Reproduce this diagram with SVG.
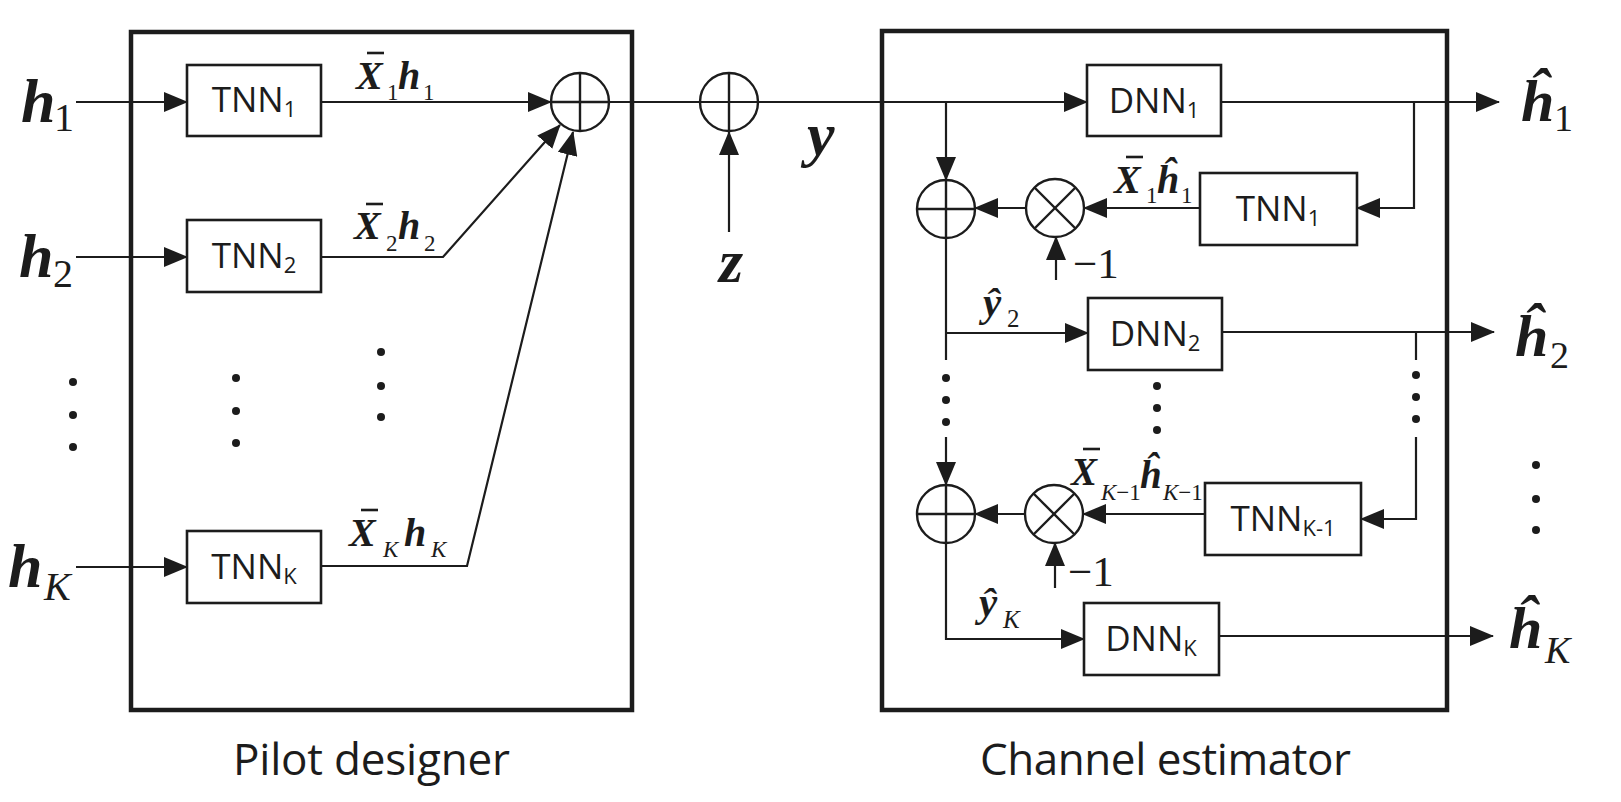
<svg xmlns="http://www.w3.org/2000/svg" width="1621" height="802" viewBox="0 0 1621 802">
<defs>
<style>
.ln{stroke:#1c1c1c;stroke-width:2.2;fill:none}
.box{fill:#fff;stroke:#1c1c1c;stroke-width:2.6}
.frame{fill:none;stroke:#1c1c1c;stroke-width:4.5}
.op{fill:none;stroke:#1c1c1c;stroke-width:2.4}
.lbl{font-family:"Open Sans","Noto Sans",sans-serif;font-size:35px;fill:#1c1c1c}
.sub{font-size:22px}
.cap{font-family:"Open Sans","Noto Sans",sans-serif;font-size:44px;fill:#1c1c1c}
.m{font-family:"Liberation Serif","Times New Roman",serif;font-weight:bold;font-style:italic;fill:#1c1c1c}
.mr{font-family:"Liberation Serif","Times New Roman",serif;font-weight:normal;font-style:normal;fill:#1c1c1c}
.mi{font-family:"Liberation Serif","Times New Roman",serif;font-weight:normal;font-style:italic;fill:#1c1c1c}
.dot{fill:#1c1c1c}
.bar{stroke:#1c1c1c;stroke-width:2.6}
</style>
<marker id="ah" markerUnits="userSpaceOnUse" markerWidth="24" markerHeight="20" refX="23" refY="10" orient="auto">
<path d="M0,0 L24,10 L0,20 Z" fill="#1c1c1c"/>
</marker>
</defs>
<rect width="1621" height="802" fill="#fff"/>

<g id="pilot-designer">
<rect class="frame" x="131" y="32" width="501" height="678"/>
<text class="cap" x="233" y="775" textLength="277">Pilot designer</text>
</g>
<g id="channel-estimator">
<rect class="frame" x="882" y="31" width="565" height="679"/>
<text class="cap" x="980" y="775" textLength="371">Channel estimator</text>
</g>

<g id="connectors">
<line class="ln" x1="76" y1="102" x2="187" y2="102" marker-end="url(#ah)"/>
<line class="ln" x1="76" y1="257" x2="187" y2="257" marker-end="url(#ah)"/>
<line class="ln" x1="76" y1="567" x2="187" y2="567" marker-end="url(#ah)"/>
<line class="ln" x1="321" y1="102" x2="551" y2="102" marker-end="url(#ah)"/>
<polyline class="ln" points="321,257 443,257 560,125" marker-end="url(#ah)"/>
<polyline class="ln" points="321,566 467,566 573,132" marker-end="url(#ah)"/>
<line class="ln" x1="609" y1="102" x2="1087" y2="102" marker-end="url(#ah)"/>
<line class="ln" x1="729" y1="232" x2="729" y2="132" marker-end="url(#ah)"/>
<line class="ln" x1="946" y1="102" x2="946" y2="180" marker-end="url(#ah)"/>
<line class="ln" x1="1221" y1="102" x2="1499" y2="102" marker-end="url(#ah)"/>
<polyline class="ln" points="1414,102 1414,208 1357,208" marker-end="url(#ah)"/>
<line class="ln" x1="1200" y1="208" x2="1084" y2="208" marker-end="url(#ah)"/>
<line class="ln" x1="1026" y1="208" x2="975" y2="208" marker-end="url(#ah)"/>
<line class="ln" x1="1056" y1="280" x2="1056" y2="237" marker-end="url(#ah)"/>
<line class="ln" x1="946" y1="238" x2="946" y2="360"/>
<line class="ln" x1="946" y1="333" x2="1088" y2="333" marker-end="url(#ah)"/>
<line class="ln" x1="1222" y1="332" x2="1494" y2="332" marker-end="url(#ah)"/>
<line class="ln" x1="1416" y1="332" x2="1416" y2="360"/>
<polyline class="ln" points="1416,437 1416,519 1361,519" marker-end="url(#ah)"/>
<line class="ln" x1="946" y1="437" x2="946" y2="485" marker-end="url(#ah)"/>
<line class="ln" x1="1205" y1="514" x2="1083" y2="514" marker-end="url(#ah)"/>
<line class="ln" x1="1025" y1="514" x2="975" y2="514" marker-end="url(#ah)"/>
<line class="ln" x1="1055" y1="588" x2="1055" y2="543" marker-end="url(#ah)"/>
<polyline class="ln" points="946,543 946,639 1084,639" marker-end="url(#ah)"/>
<line class="ln" x1="1219" y1="636" x2="1493" y2="636" marker-end="url(#ah)"/>
</g>

<g id="tnn1">
<rect class="box" x="187" y="65" width="134" height="71"/>
<text class="lbl" x="254" y="112" text-anchor="middle">TNN<tspan class="sub" dy="5">1</tspan></text>
</g>
<g id="tnn2">
<rect class="box" x="187" y="220" width="134" height="72"/>
<text class="lbl" x="254" y="268" text-anchor="middle">TNN<tspan class="sub" dy="5">2</tspan></text>
</g>
<g id="tnnK">
<rect class="box" x="187" y="531" width="134" height="72"/>
<text class="lbl" x="254" y="579" text-anchor="middle">TNN<tspan class="sub" dy="5">K</tspan></text>
</g>
<g id="adder-pilot">
<circle class="op" cx="580" cy="102" r="29"/>
<line class="op" x1="551" y1="102" x2="609" y2="102"/>
<line class="op" x1="580" y1="73" x2="580" y2="131"/>
</g>
<g id="adder-noise">
<circle class="op" cx="729" cy="102" r="29"/>
<line class="op" x1="729" y1="73" x2="729" y2="131"/>
</g>

<g id="h1-label"><text class="m" x="21" y="122" font-size="62">h</text><text class="mr" x="54" y="131" font-size="40">1</text></g>
<g id="h2-label"><text class="m" x="19" y="277" font-size="62">h</text><text class="mr" x="53" y="287" font-size="40">2</text></g>
<g id="hK-label"><text class="m" x="8" y="587" font-size="62">h</text><text class="mi" x="44" y="600" font-size="40">K</text></g>

<g id="dots-left">
<circle class="dot" cx="73" cy="382" r="4"/><circle class="dot" cx="73" cy="415" r="4"/><circle class="dot" cx="73" cy="447" r="4"/>
<circle class="dot" cx="236" cy="378" r="4"/><circle class="dot" cx="236" cy="411" r="4"/><circle class="dot" cx="236" cy="443" r="4"/>
<circle class="dot" cx="381" cy="352" r="4"/><circle class="dot" cx="381" cy="386" r="4"/><circle class="dot" cx="381" cy="417" r="4"/>
</g>

<g id="x1h1-label">
<line class="bar" x1="367" y1="53" x2="384" y2="53"/>
<text class="m" x="356" y="89" font-size="40">X</text><text class="mr" x="387" y="100" font-size="23">1</text>
<text class="m" x="398" y="89" font-size="40">h</text><text class="mr" x="423" y="100" font-size="23">1</text>
</g>
<g id="x2h2-label">
<line class="bar" x1="366" y1="204" x2="383" y2="204"/>
<text class="m" x="354" y="239" font-size="40">X</text><text class="mr" x="386" y="251" font-size="23">2</text>
<text class="m" x="398" y="239" font-size="40">h</text><text class="mr" x="424" y="251" font-size="23">2</text>
</g>
<g id="xKhK-label">
<line class="bar" x1="361" y1="510" x2="378" y2="510"/>
<text class="m" x="349" y="546" font-size="40">X</text><text class="mi" x="383" y="557" font-size="23">K</text>
<text class="m" x="404" y="546" font-size="40">h</text><text class="mi" x="431" y="557" font-size="23">K</text>
</g>

<g id="y-label"><text class="m" x="807" y="155" font-size="62">y</text></g>
<g id="z-label"><text class="m" x="719" y="282" font-size="62">z</text></g>

<g id="dnn1">
<rect class="box" x="1087" y="65" width="134" height="71"/>
<text class="lbl" x="1154" y="113" text-anchor="middle">DNN<tspan class="sub" dy="5">1</tspan></text>
</g>
<g id="tnn1-est">
<rect class="box" x="1200" y="173" width="157" height="72"/>
<text class="lbl" x="1278" y="221" text-anchor="middle">TNN<tspan class="sub" dy="5">1</tspan></text>
</g>
<g id="adder-est1">
<circle class="op" cx="946" cy="209" r="29"/>
<line class="op" x1="917" y1="209" x2="975" y2="209"/>
<line class="op" x1="946" y1="180" x2="946" y2="238"/>
</g>
<g id="mult-est1">
<circle class="op" cx="1055" cy="208" r="29"/>
<line class="op" x1="1034.5" y1="187.5" x2="1075.5" y2="228.5"/>
<line class="op" x1="1034.5" y1="228.5" x2="1075.5" y2="187.5"/>
</g>
<g id="dnn2">
<rect class="box" x="1088" y="298" width="134" height="72"/>
<text class="lbl" x="1155" y="346" text-anchor="middle">DNN<tspan class="sub" dy="5">2</tspan></text>
</g>
<g id="tnnK1-est">
<rect class="box" x="1205" y="483" width="156" height="72"/>
<text class="lbl" x="1283" y="531" text-anchor="middle">TNN<tspan class="sub" dy="5">K-1</tspan></text>
</g>
<g id="adder-est2">
<circle class="op" cx="946" cy="514" r="29"/>
<line class="op" x1="917" y1="514" x2="975" y2="514"/>
<line class="op" x1="946" y1="485" x2="946" y2="543"/>
</g>
<g id="mult-est2">
<circle class="op" cx="1054" cy="514" r="29"/>
<line class="op" x1="1033.5" y1="493.5" x2="1074.5" y2="534.5"/>
<line class="op" x1="1033.5" y1="534.5" x2="1074.5" y2="493.5"/>
</g>
<g id="dnnK">
<rect class="box" x="1084" y="603" width="135" height="72"/>
<text class="lbl" x="1151" y="651" text-anchor="middle">DNN<tspan class="sub" dy="5">K</tspan></text>
</g>

<g id="dots-right">
<circle class="dot" cx="946" cy="378" r="4"/><circle class="dot" cx="946" cy="400" r="4"/><circle class="dot" cx="946" cy="422" r="4"/>
<circle class="dot" cx="1157" cy="386" r="4"/><circle class="dot" cx="1157" cy="408" r="4"/><circle class="dot" cx="1157" cy="430" r="4"/>
<circle class="dot" cx="1416" cy="375" r="4"/><circle class="dot" cx="1416" cy="397" r="4"/><circle class="dot" cx="1416" cy="419" r="4"/>
<circle class="dot" cx="1536" cy="465" r="4"/><circle class="dot" cx="1536" cy="499" r="4"/><circle class="dot" cx="1536" cy="530" r="4"/>
</g>

<g id="minus1-a"><text class="mr" x="1073" y="278" font-size="43">−1</text></g>
<g id="minus1-b"><text class="mr" x="1068" y="586" font-size="43">−1</text></g>

<g id="x1h1hat-label">
<line class="bar" x1="1126" y1="157" x2="1143" y2="157"/>
<text class="m" x="1114" y="193" font-size="40">X</text><text class="mr" x="1146" y="203" font-size="23">1</text>
<text class="m" x="1157" y="193" font-size="40">ĥ</text><text class="mr" x="1181" y="203" font-size="23">1</text>
</g>
<g id="xK1hK1hat-label">
<line class="bar" x1="1083" y1="449" x2="1100" y2="449"/>
<text class="m" x="1071" y="485" font-size="39">X</text><text x="1101" y="500" font-size="23"><tspan class="mi">K</tspan><tspan class="mr">−1</tspan></text>
<text class="m" x="1140" y="488" font-size="39">ĥ</text><text x="1163" y="500" font-size="23"><tspan class="mi">K</tspan><tspan class="mr">−1</tspan></text>
</g>

<g id="y2hat-label"><text class="m" x="983" y="316" font-size="41">ŷ</text><text class="mr" x="1007" y="327" font-size="25">2</text></g>
<g id="yKhat-label"><text class="m" x="979" y="616" font-size="41">ŷ</text><text class="mi" x="1003" y="628" font-size="25">K</text></g>

<g id="h1hat-label"><text class="m" x="1521" y="121" font-size="60">ĥ</text><text class="mr" x="1554" y="131" font-size="38">1</text></g>
<g id="h2hat-label"><text class="m" x="1515" y="356" font-size="60">ĥ</text><text class="mr" x="1550" y="368" font-size="38">2</text></g>
<g id="hKhat-label"><text class="m" x="1509" y="648" font-size="60">ĥ</text><text class="mi" x="1545" y="663" font-size="38">K</text></g>
</svg>
